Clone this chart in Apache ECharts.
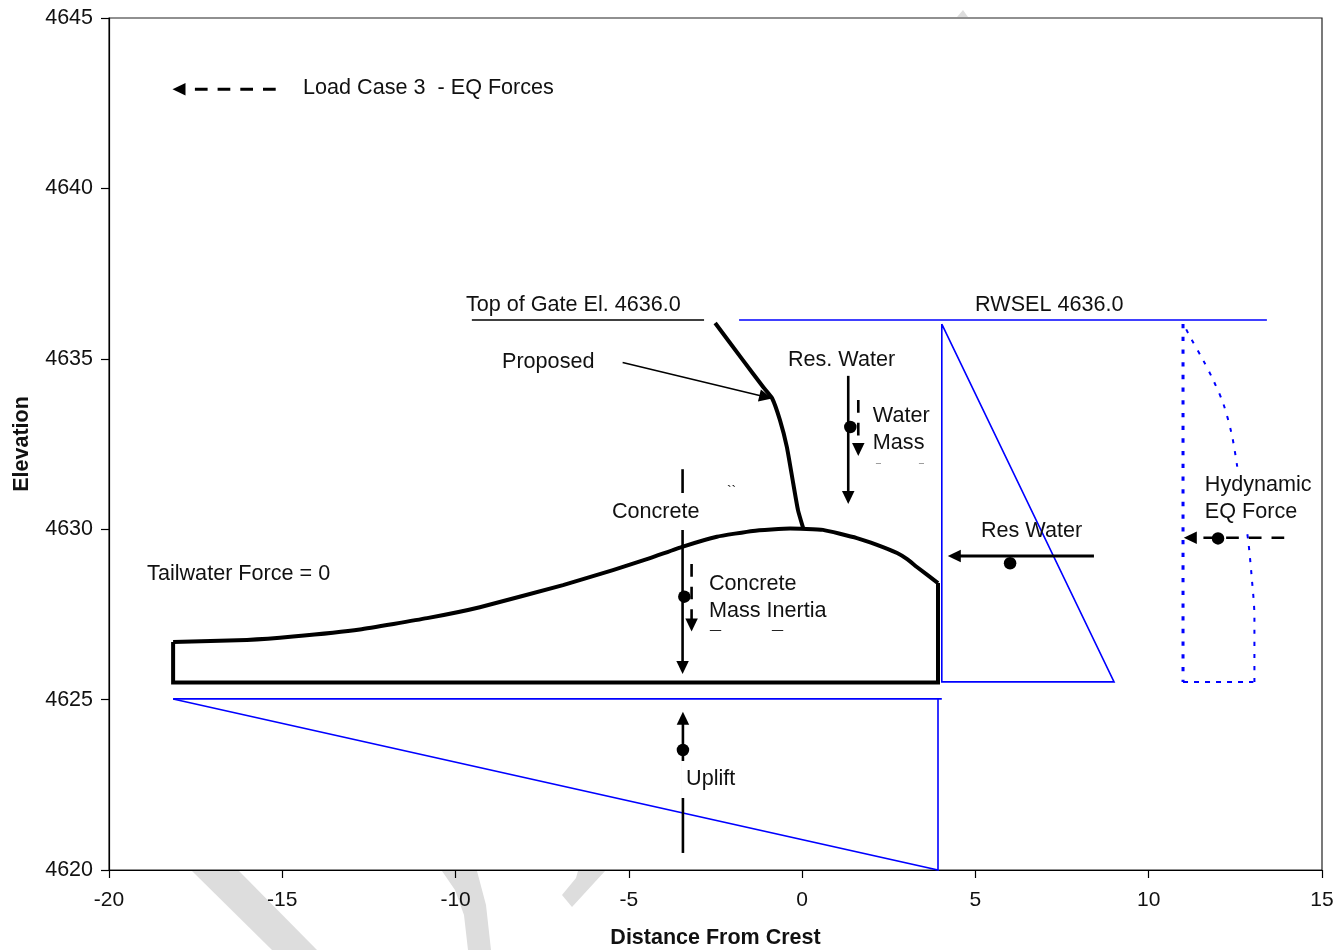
<!DOCTYPE html>
<html>
<head>
<meta charset="utf-8">
<style>html,body{margin:0;padding:0;background:#fff}#c{width:1342px;height:950px}</style>
<script src="https://cdn.jsdelivr.net/npm/echarts@6/dist/echarts.min.js"></script>
</head>
<body>
<div id="c"></div>
<script>
// ---- data ----
const xTicks = [-20,-15,-10,-5,0,5,10,15];
const yTicks = [4620,4625,4630,4635,4640,4645];
const xName = 'Distance From Crest';
const yName = 'Elevation';

const damCrest = [[-18.15,4626.69],[-16.02,4626.75],[-14.69,4626.85],[-12.76,4627.06],[-10.82,4627.39],[-9.30,4627.71],[-6.90,4628.36],[-5.46,4628.80],[-4.39,4629.15],[-3.44,4629.49],[-2.46,4629.78],[-1.42,4629.95],[-0.35,4630.02],[0.6,4629.98],[1.58,4629.74],[2.16,4629.54],[2.74,4629.30],[3.03,4629.12],[3.31,4628.89],[3.92,4628.42]];
const damBase = [[-18.15,4626.69],[-18.15,4625.5],[3.92,4625.5],[3.92,4628.42]];
const gate = [[-2.51,4636.05],[-1.71,4634.96],[-1.13,4634.18],[-0.87,4633.85],[-0.64,4633.2],[-0.44,4632.41],[-0.26,4631.36],[-0.12,4630.56],[0.03,4630.03]];
const gateTopLine = [[-9.53,4636.14],[-2.83,4636.14]];
const rwsel = [[-1.82,4636.14],[13.41,4636.14]];
const resTriangle = [[4.03,4636.02],[4.03,4625.52],[9.0,4625.52],[4.03,4636.02]];
const uplift = [[-18.15,4625.02],[4.03,4625.02]];
const upliftB = [[3.92,4625.02],[3.92,4620],[-18.15,4625.02]];
const hydroLeft = [[10.99,4636.02],[10.99,4625.52]];
const hydroBase = [[10.99,4625.52],[13.02,4625.52]];
const hydroCurve = [[13.05,4625.52],[13.05,4627.43],[12.97,4628.61],[12.87,4629.68],[12.81,4630.07],[12.54,4631.93],[12.39,4632.81],[12.15,4633.69],[11.86,4634.38],[11.57,4634.96],[11.19,4635.65],[11.02,4635.99]];

const resDown = [[1.33,4634.5],[1.33,4630.93]];
const waterMass = [[1.62,4633.79],[1.62,4632.34]];
const concDown = [[-3.45,4631.76],[-3.45,4625.94]];
const concInertia = [[-3.19,4628.98],[-3.19,4627.19]];
const upliftArrow = [[-3.44,4620.5],[-3.44,4624.45]];
const resHoriz = [[8.42,4629.21],[4.39,4629.21]];
const hydroArrow = [[13.91,4629.75],[11.2,4629.75]];
const legendArrow = [[-15.19,4642.91],[-17.98,4642.91]];
const proposedArrow = [[-5.18,4634.89],[-1.05,4633.88]];

const dots = [[1.39,4633.0],[-3.4,4628.02],[6.0,4629.0],[12.0,4629.73],[-3.44,4623.52]];

const plainLabels = [
  ['Load Case 3  - EQ Forces',-14.40,4642.98],
  ['Top of Gate El. 4636.0',-9.70,4636.61],
  ['Proposed',-8.66,4634.94],
  ['Res. Water',-0.41,4635.02],
  ['Tailwater Force = 0',-18.90,4628.74],
  ['RWSEL 4636.0',4.99,4636.61],
  ['Res Water',5.16,4629.98]
];
const boxedLabels = [
  ['Water\nMass',2.04,4632.98],
  ['Concrete',-5.49,4630.56],
  ['Concrete\nMass Inertia',-2.69,4628.04],
  ['Uplift',-3.35,4622.70],
  ['Hydynamic\nEQ Force',11.62,4630.94]
];
const fragments = [
  ['``',-2.17,4631.12,14],
  ['\u00AF',-2.66,4626.8,20],
  ['\u00AF',-0.87,4626.8,20],
  ['\u00AF',2.13,4631.86,9],
  ['\u00AF',3.37,4631.86,9]
];

// ---- styling helpers ----
const FONT = '"Liberation Sans", Arial, sans-serif';
const BLUE = '#0000ff';
const INK = '#111';
const LABEL_SIZE = 21.6;
function line(data, color, width, extra){
  return Object.assign({type:'line',data:data,symbol:'none',silent:true,animation:false,clip:false,z:3,
    lineStyle:{color:color,width:width,cap:'butt',join:'miter'}},extra||{});
}
function arrow(data, rot, width, dash, size){
  const pts = data.map((p,i)=> i===data.length-1
    ? {value:p,symbol:'triangle',symbolSize:size||[12.5,13],symbolRotate:rot,itemStyle:{color:'#000',borderWidth:0,opacity:1}}
    : {value:p,symbol:'none'});
  return {type:'line',data:pts,silent:true,animation:false,clip:false,z:4,showSymbol:true,showAllSymbol:true,
    itemStyle:{color:'#000',opacity:1},
    lineStyle:{color:'#000',width:width,type:dash?[12.7,10]:'solid',cap:'butt'}};
}
function labels(list, boxed){
  return {type:'scatter',symbolSize:0,silent:true,animation:false,clip:false,z:boxed?5:7,
    itemStyle:{opacity:1},
    data:list.map(l=>({value:[l[1],l[2]],itemStyle:{opacity:1},
      label:{show:true,formatter:l[0],position:'right',distance:0,align:'left',verticalAlign:'middle',
        fontFamily:FONT,fontSize:l[3]||LABEL_SIZE,lineHeight:27,color:INK,offset:[boxed?-5:0,1.5],opacity:1,
        backgroundColor:boxed?'#fff':'transparent',padding:boxed?[5,3,5,5]:0}}))};
}

const series = [
  line(uplift,BLUE,1.6), line(upliftB,BLUE,1.6),
  line(resTriangle,BLUE,1.6), line(rwsel,BLUE,1.6),
  line(gateTopLine,'#000',1.4),
  line(hydroLeft,BLUE,3,{lineStyle:{color:BLUE,width:3,type:[4.3,8.4],cap:'butt'}}),
  line(hydroBase,BLUE,2,{lineStyle:{color:BLUE,width:2,type:[5,6],cap:'butt'}}),
  line(hydroCurve,BLUE,2,{smooth:0.3,lineStyle:{color:BLUE,width:2,type:[4,8],cap:'butt'}}),
  line(damBase,'#000',4,{lineStyle:{color:'#000',width:4,join:'miter'}}),
  line(damCrest,'#000',4,{smooth:0.12}),
  line(gate,'#000',4,{smooth:0.15}),
  arrow(resDown,180,2.6),
  arrow(waterMass,180,2.6,true),
  arrow(concDown,180,2.6),
  arrow(concInertia,180,2.6,true),
  arrow(upliftArrow,0,2.6),
  arrow(resHoriz,90,3),
  arrow(hydroArrow,90,2.6,true),
  arrow(legendArrow,90,2.8,true),
  arrow(proposedArrow,-103.4,1.5),
  labels(boxedLabels,true),
  {type:'scatter',data:dots,symbol:'circle',symbolSize:12.5,itemStyle:{color:'#000',opacity:1},silent:true,animation:false,z:6},
  labels(plainLabels,false),
  labels(fragments,false)
];

const chart = echarts.init(document.getElementById('c'),null,{renderer:'canvas'});
chart.setOption({
  animation:false,
  backgroundColor:'#fff',
  grid:{left:109,top:18,right:20,bottom:80,show:true,outerBoundsMode:'none',containLabel:false,borderColor:'#222',borderWidth:1.2,backgroundColor:'transparent'},
  xAxis:{type:'value',min:-20,max:15,interval:5,name:xName,nameLocation:'middle',nameGap:57,
    nameTextStyle:{fontFamily:FONT,fontSize:21.5,fontWeight:'bold',color:INK},
    axisLine:{lineStyle:{color:'#000',width:1.2},onZero:false},
    axisTick:{length:8,lineStyle:{color:'#000',width:1.2}},
    splitLine:{show:false},
    axisLabel:{fontFamily:FONT,fontSize:21,color:INK,margin:20,formatter:v=>xTicks.includes(v)?String(v):''}},
  yAxis:{type:'value',min:4620,max:4645,interval:5,name:yName,nameLocation:'middle',nameGap:76,nameRotate:90,
    nameTextStyle:{fontFamily:FONT,fontSize:21.5,fontWeight:'bold',color:INK},
    axisLine:{lineStyle:{color:'#000',width:1.2},onZero:false},
    axisTick:{length:8,lineStyle:{color:'#000',width:1.2}},
    splitLine:{show:false},
    axisLabel:{fontFamily:FONT,fontSize:21.5,color:INK,margin:16,formatter:v=>yTicks.includes(v)?String(v):''}},
  graphic:[
    {type:'polygon',z:-1,shape:{points:[[192,871],[239,871],[317,950],[272,950]]},style:{fill:'#dddddd'}},
    {type:'polygon',z:-1,shape:{points:[[442,871],[477,871],[486,905],[491,950],[468,950],[464,915],[455,890]]},style:{fill:'#dddddd'}},
    {type:'polygon',z:-1,shape:{points:[[578,871],[605,871],[572,907],[562,895],[576,878]]},style:{fill:'#dddddd'}},
    {type:'polygon',z:-1,shape:{points:[[957,17],[963,10],[968,17]]},style:{fill:'#dddddd'}}
  ],
  series:series
});
</script>
</body>
</html>
